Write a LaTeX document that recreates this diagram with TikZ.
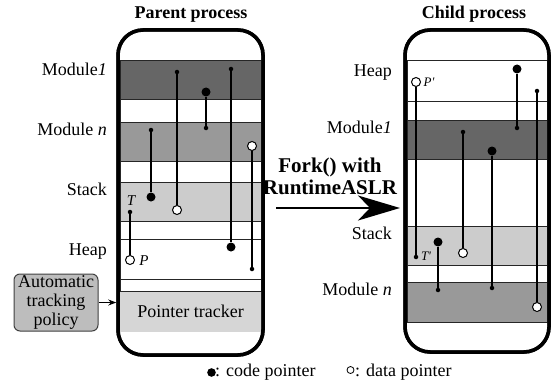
\documentclass[tikz,border=0pt]{standalone}
\usepackage{fontspec}
\setmainfont{LiberationSerif}[Extension=.ttf, UprightFont=*-Regular, BoldFont=*-Bold, ItalicFont=*-Italic, BoldItalicFont=*-BoldItalic]
\newfontfamily\tmsfont{LiberationSerif}[Extension=.ttf, UprightFont=*-Regular, BoldFont=*-Bold, ItalicFont=*-Italic, BoldItalicFont=*-BoldItalic]
\usetikzlibrary{arrows.meta}
\definecolor{modone}{HTML}{666666}
\definecolor{modn}{HTML}{999999}
\definecolor{stackc}{HTML}{CCCCCC}
\definecolor{trackc}{HTML}{D6D6D6}
\definecolor{policyc}{HTML}{BDBDBD}
\begin{document}
\begin{tikzpicture}[x=1pt,y=-1pt,
  every node/.style={font=\tmsfont\fontsize{18}{19}\selectfont},
  container/.style={draw=black, line width=3.5pt, fill=white, rounded corners=25pt, inner sep=0pt},
  band/.style={draw=black!85, line width=1pt, inner sep=0pt},
  lab/.style={inner sep=0pt, anchor=base east},
  ptr/.style={line width=1.3pt},
  bigdot/.style={circle, fill=black, inner sep=0pt, minimum size=9pt},
  smalldot/.style={circle, fill=black, inner sep=0pt, minimum size=4.5pt},
  opendot/.style={circle, draw=black, line width=1pt, fill=white, inner sep=0pt, minimum size=9pt},
  ital/.style={inner sep=0pt, font=\tmsfont\fontsize{15}{15}\selectfont\itshape},
  title/.style={inner sep=0pt, anchor=base, font=\tmsfont\fontsize{18}{19}\selectfont\bfseries}
]
\useasboundingbox (0,0) rectangle (556,385);

% ---------- titles ----------
\node[title] (tparent) at (191,19) {Parent process};
\node[title] (tchild) at (474,19) {Child process};

% ---------- parent container ----------
\node[container, minimum width=145pt, minimum height=325pt] (parent) at (190.5,192.5) {};
\node[band, fill=modone, minimum width=141pt, minimum height=39pt] (L1) at (190.5,80.5) {};
\node[band, fill=white, minimum width=141pt, minimum height=22pt] (Lw1) at (190.5,111) {};
\node[band, fill=modn, minimum width=141pt, minimum height=39pt] (Ln) at (190.5,141.5) {};
\node[band, fill=white, minimum width=141pt, minimum height=21pt] (Lw2) at (190.5,171.5) {};
\node[band, fill=stackc, minimum width=141pt, minimum height=39pt] (Ls) at (190.5,201.5) {};
\node[band, fill=white, minimum width=141pt, minimum height=18pt] (Lw3) at (190.5,230) {};
\node[band, fill=white, minimum width=141pt, minimum height=40pt] (Lh) at (190.5,259) {};
\node[inner sep=0pt, fill=trackc, minimum width=141pt, minimum height=41pt] (Lt) at (190.5,311.5) {Pointer tracker};
\node[band, fill=white, minimum width=141pt, minimum height=12pt] (Lw4) at (190.5,285) {};

% labels left
\node[lab] (lm1) at (107,76) {Module\textit{1}};
\node[lab] (lmn) at (107,135) {Module \textit{n}};
\node[lab] (lst) at (107,195) {Stack};
\node[lab] (lhp) at (107,255) {Heap};

% pointers left
\node[smalldot] (pa1) at (177,72) {};
\node[opendot]  (pa2) at (177,210) {};
\node[smalldot] (pb1) at (231,69) {};
\node[bigdot]   (pb2) at (231,247) {};
\node[bigdot]   (pc1) at (206,92) {};
\node[smalldot] (pc2) at (206,128) {};
\node[smalldot] (pd1) at (151,130) {};
\node[bigdot]   (pd2) at (151,197) {};
\node[opendot]  (pe1) at (252,146) {};
\node[smalldot] (pe2) at (252,269) {};
\node[smalldot] (pf1) at (130,212) {};
\node[opendot]  (pf2) at (130,260) {};
\foreach \a/\b in {pa1/pa2,pb1/pb2,pc1/pc2,pd1/pd2,pe1/pe2,pf1/pf2}
  \draw[ptr] (\a) -- (\b);
\node[ital] (lT) at (131,201) {T};
\node[ital] (lP) at (144,261) {P};

% redraw border on top
\node[container, fill=none, minimum width=145pt, minimum height=325pt] (parentb) at (190.5,192.5) {};

% ---------- policy box ----------
\node[draw=black!75, line width=1pt, fill=policyc, rounded corners=6pt, inner sep=0pt,
      minimum width=84pt, minimum height=57pt, align=center] (policy) at (56,302.5)
      {Automatic\\tracking\\policy};
\draw[line width=1pt, -{Stealth[length=8pt,width=6pt]}] (policy.east) -- (policy.east -| parent.west);

% ---------- child container ----------
\node[container, minimum width=144pt, minimum height=322pt] (child) at (477,191) {};
\node[band, fill=white, minimum width=140pt, minimum height=41pt] (Rh) at (477,81.5) {};
\node[band, fill=white, minimum width=140pt, minimum height=18pt] (Rw1) at (477,111) {};
\node[band, fill=modone, minimum width=140pt, minimum height=39pt] (R1) at (477,139.5) {};
\node[band, fill=white, minimum width=140pt, minimum height=67pt] (Rw2) at (477,192.5) {};
\node[band, fill=stackc, minimum width=140pt, minimum height=39pt] (Rs) at (477,245.5) {};
\node[band, fill=white, minimum width=140pt, minimum height=17pt] (Rw3) at (477,273.5) {};
\node[band, fill=modn, minimum width=140pt, minimum height=40pt] (Rn) at (477,302) {};

% labels right
\node[lab] (rhp) at (392,77) {Heap};
\node[lab] (rm1) at (392,133) {Module\textit{1}};
\node[lab] (rst) at (392,239) {Stack};
\node[lab] (rmn) at (392,295) {Module \textit{n}};

% pointers right
\node[opendot]  (qa1) at (416,82) {};
\node[smalldot] (qa2) at (416,257) {};
\node[bigdot]   (qb1) at (517,69) {};
\node[smalldot] (qb2) at (517,128) {};
\node[smalldot] (qc1) at (537,91) {};
\node[opendot]  (qc2) at (537,307) {};
\node[smalldot] (qd1) at (463,132) {};
\node[opendot]  (qd2) at (463,253) {};
\node[bigdot]   (qe1) at (492,151) {};
\node[smalldot] (qe2) at (492,288) {};
\node[bigdot]   (qf1) at (438,242) {};
\node[smalldot] (qf2) at (438,290) {};
\foreach \a/\b in {qa1/qa2,qb1/qb2,qc1/qc2,qd1/qd2,qe1/qe2,qf1/qf2}
  \draw[ptr] (\a) -- (\b);
\node[ital, font=\tmsfont\fontsize{13}{13}\selectfont\itshape] (lPp) at (429,82) {P'};
\node[ital, font=\tmsfont\fontsize{13}{13}\selectfont\itshape] (lTp) at (426,256) {T'};

\node[container, fill=none, minimum width=144pt, minimum height=322pt] (childb) at (477,191) {};

% ---------- fork arrow ----------
\node[inner sep=0pt, align=center, font=\tmsfont\fontsize{21}{22}\selectfont\bfseries] (fork) at (330,176) {Fork() with\\RuntimeASLR};
\coordinate (fs) at (276,208);
\coordinate (fe) at (400,208);
\draw[line width=2pt, -{Stealth[length=42pt,width=25pt,inset=12pt]}] (fs) -- (fe);

% ---------- legend ----------
\node[circle, fill=black, inner sep=0pt, minimum size=8.6pt] (legc) at (211.5,372.5) {};
\node[inner sep=0pt, anchor=base west] (legct) at (215,376) {: code pointer};
\node[circle, draw=black, line width=0.8pt, inner sep=0pt, minimum size=7pt] (legd) at (350.5,370) {};
\node[inner sep=0pt, anchor=base west] (legdt) at (355,376) {: data pointer};
\end{tikzpicture}
\end{document}
